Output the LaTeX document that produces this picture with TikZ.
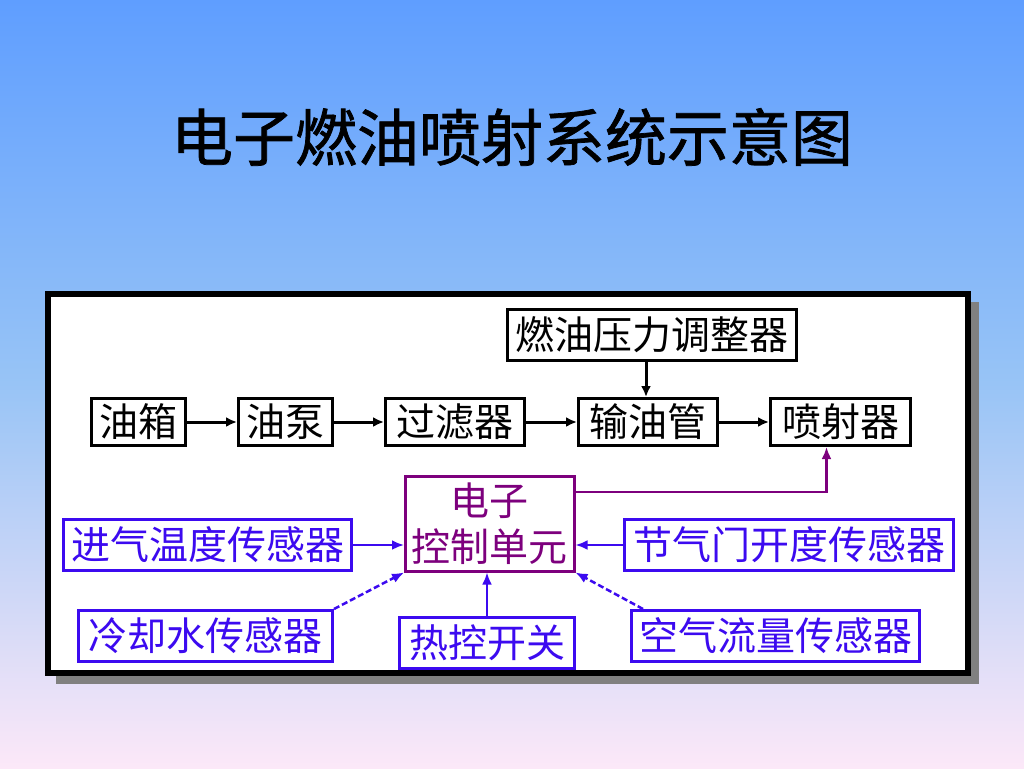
\documentclass[tikz,border=0pt]{standalone}
\usepackage{fontspec}
\setmainfont{Noto Sans CJK SC}
\newfontfamily\titlefont{Noto Sans CJK SC}[FakeBold=1.2]
\usetikzlibrary{arrows.meta,calc}
\definecolor{bgtop}{RGB}{95,158,255}
\definecolor{bgmid}{RGB}{152,196,246}
\definecolor{bgbot}{RGB}{252,232,248}
\definecolor{sblue}{RGB}{60,10,240}
\definecolor{spurple}{RGB}{125,0,125}
\definecolor{shadowgray}{RGB}{128,128,128}
\begin{document}
\begin{tikzpicture}[x=1pt,y=-1pt,
  blk/.style={draw=black,line width=3pt,fill=white,inner sep=0pt,anchor=north west,
    text=black,font=\fontsize{39}{42}\selectfont},
  blu/.style={draw=sblue,line width=3pt,fill=white,inner sep=0pt,anchor=north west,
    text=sblue,font=\fontsize{39}{42}\selectfont},
  pur/.style={draw=spurple,line width=2.5pt,fill=white,inner sep=0pt,anchor=north west,
    text=spurple,align=center,font=\fontsize{39}{46}\selectfont},
  barrow/.style={draw=black,line width=3pt,-{Latex[length=11pt,width=10pt]}},
  blarrow/.style={draw=sblue,line width=2.5pt,-{Latex[length=12pt,width=10pt]}},
  parrow/.style={draw=spurple,line width=2.5pt,-{Latex[length=12pt,width=10pt]}},
  dashline/.style={dash pattern=on 6pt off 3pt}
]
\useasboundingbox (0,0) rectangle (1024,768);
\shade[top color=bgtop,bottom color=bgbot,middle color=bgmid] (0,0) rectangle (1024,768);

% title
\node[font=\titlefont\fontsize{62}{66}\selectfont,text=black,inner sep=0pt] (title) at (512,137) {电子燃油喷射系统示意图};

% frame with shadow
\fill[shadowgray] (56,302) rectangle (979,684);
\draw[line width=5.5pt,fill=white] (48,294) rectangle (968,673);

% black chain
\node[blk,minimum width=94pt,minimum height=47pt] (tank) at (90,397) {油箱};
\node[blk,minimum width=94pt,minimum height=47pt] (pump) at (237,397) {油泵};
\node[blk,minimum width=139pt,minimum height=47pt] (filter) at (384,397) {过滤器};
\node[blk,minimum width=139pt,minimum height=47pt] (pipe) at (577,397) {输油管};
\node[blk,minimum width=140pt,minimum height=47pt] (inj) at (769,397) {喷射器};
\node[blk,minimum width=289pt,minimum height=51pt] (reg) at (506,308) {燃油压力调整器};

\draw[barrow] (tank.east) -- (pump.west);
\draw[barrow] (pump.east) -- (filter.west);
\draw[barrow] (filter.east) -- (pipe.west);
\draw[barrow] (pipe.east) -- (inj.west);
\coordinate (regout) at ($(reg.south)+(-6,0)$);
\draw[barrow] (regout) -- (regout |- pipe.north);

% ECU
\node[pur,minimum width=169pt,minimum height=95pt] (ecu) at (404,475) {电子\\控制单元};
\coordinate (ecuout) at ($(ecu.north east)+(0,17)$);
\coordinate (injin) at ($(inj.south)+(-14,0)$);
\draw[parrow] (ecuout) -| (injin);

% sensors
\node[blu,minimum width=288pt,minimum height=51pt] (intake) at (62,518) {进气温度传感器};
\node[blu,minimum width=329pt,minimum height=51pt] (throttle) at (623,518) {节气门开度传感器};
\node[blu,minimum width=254pt,minimum height=51pt] (cool) at (77,609) {冷却水传感器};
\node[blu,minimum width=175pt,minimum height=51pt] (sw) at (398,616) {热控开关};
\node[blu,minimum width=288pt,minimum height=51pt] (air) at (630,609) {空气流量传感器};

\draw[blarrow] (intake.east) -- (ecu.west |- intake.east);
\draw[blarrow] (throttle.west) -- (ecu.east |- throttle.west);
\draw[blarrow,dashline] (cool.north east) -- (ecu.south west);
\draw[blarrow] (sw.north) -- (sw.north |- ecu.south);
\coordinate (airout) at ($(air.north west)+(13,0)$);
\draw[blarrow,dashline] (airout) -- (ecu.south east);
\end{tikzpicture}
\end{document}
